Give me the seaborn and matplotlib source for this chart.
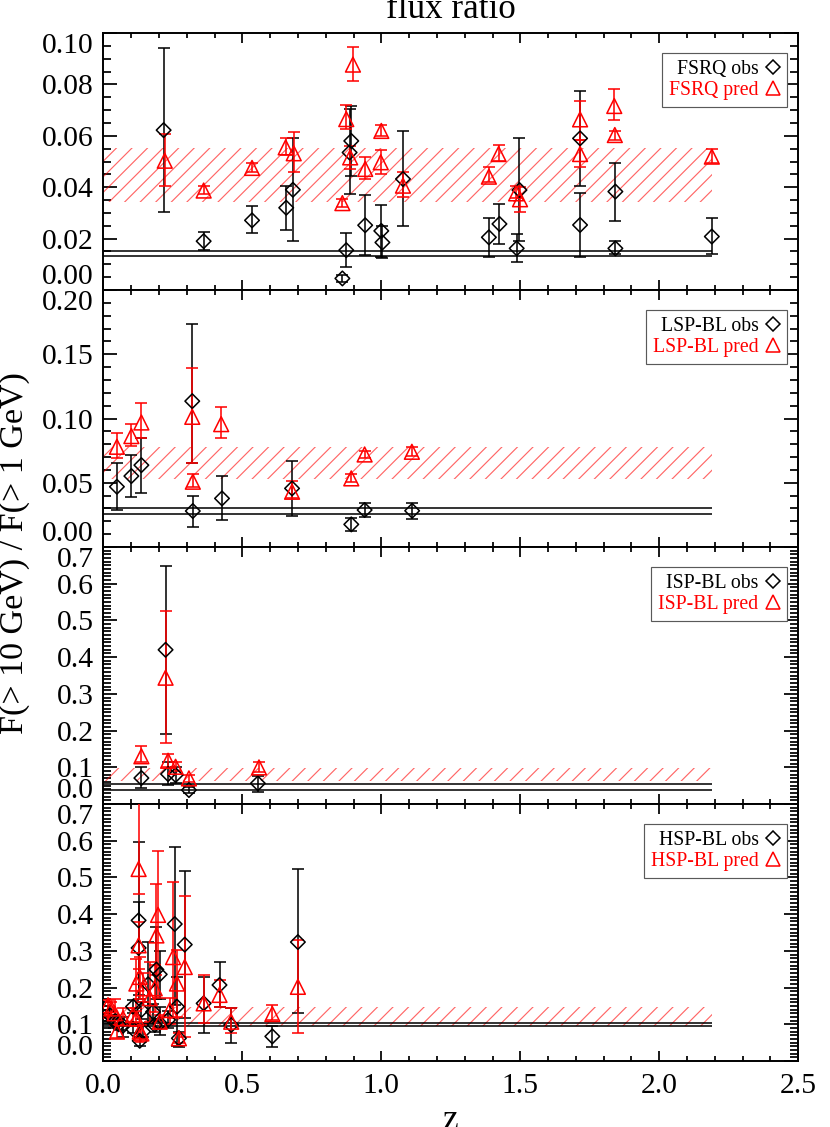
import matplotlib
matplotlib.use("Agg")
import matplotlib.pyplot as plt
from matplotlib.lines import Line2D
from matplotlib.ticker import MultipleLocator, FormatStrFormatter
import numpy as np
import seaborn as sns

# ---- FSRQ ----
fsrq_obs_z = [0.217, 0.361, 0.535, 0.658, 0.682, 0.860, 0.874, 0.886, 0.892, 0.942, 1.000,
              1.004, 1.078, 1.387, 1.425, 1.487, 1.497, 1.715, 1.715, 1.842, 1.842, 2.189]
fsrq_obs = [0.0622, 0.0190, 0.0271, 0.0320, 0.0390, 0.0045, 0.0155, 0.0535, 0.0580, 0.0252, 0.0230,
            0.0185, 0.0432, 0.0205, 0.0257, 0.0162, 0.0389, 0.0253, 0.0590, 0.0383, 0.0162, 0.0208]
fsrq_obs_hi = [0.0942, 0.0226, 0.0325, 0.0406, 0.0590, 0.0058, 0.0222, 0.0705, 0.0716, 0.0368, 0.0332,
               0.0250, 0.0619, 0.0279, 0.0335, 0.0218, 0.0590, 0.0376, 0.0774, 0.0495, 0.0192, 0.0279]
fsrq_obs_lo = [0.0303, 0.0155, 0.0222, 0.0235, 0.0191, 0.0032, 0.0090, 0.0374, 0.0445, 0.0135, 0.0129,
               0.0123, 0.0248, 0.0130, 0.0180, 0.0108, 0.0192, 0.0130, 0.0405, 0.0270, 0.0140, 0.0140]
fsrq_pred_z = [0.221, 0.361, 0.535, 0.656, 0.685, 0.860, 0.874, 0.888, 0.898, 0.942, 0.998,
               1.000, 1.078, 1.387, 1.422, 1.485, 1.499, 1.715, 1.715, 1.838, 1.840, 2.189]
fsrq_pred = [0.0503, 0.0387, 0.0475, 0.0555, 0.0532, 0.0338, 0.0665, 0.0516, 0.0877, 0.0471, 0.0497,
             0.0619, 0.0406, 0.0441, 0.0529, 0.0376, 0.0353, 0.0664, 0.0529, 0.0716, 0.0603, 0.0519]
fsrq_pred_hi = [0.0606, 0.0404, 0.0493, 0.0591, 0.0613, 0.0355, 0.0720, 0.0561, 0.0945, 0.0516, 0.0545,
                0.0643, 0.0458, 0.0477, 0.0564, 0.0405, 0.0402, 0.0737, 0.0584, 0.0781, 0.0620, 0.0547]
fsrq_pred_lo = [0.0404, 0.0374, 0.0458, 0.0526, 0.0458, 0.0323, 0.0626, 0.0471, 0.0813, 0.0432, 0.0452,
                0.0600, 0.0361, 0.0421, 0.0503, 0.0359, 0.0305, 0.0584, 0.0477, 0.0661, 0.0584, 0.0493]

# ---- LSP-BL ----
lsp_obs_z = [0.049, 0.101, 0.137, 0.320, 0.322, 0.427, 0.679, 0.892, 0.940, 1.111]
lsp_obs = [0.0469, 0.0552, 0.0637, 0.1135, 0.0280, 0.0378, 0.0456, 0.0176, 0.0288, 0.0282]
lsp_obs_hi = [0.0650, 0.0715, 0.0845, 0.1733, 0.0399, 0.0554, 0.0671, 0.0223, 0.0339, 0.0345]
lsp_obs_lo = [0.0288, 0.0386, 0.0422, 0.0650, 0.0153, 0.0210, 0.0244, 0.0127, 0.0236, 0.0220]
lsp_pred_z = [0.049, 0.101, 0.137, 0.320, 0.322, 0.424, 0.679, 0.892, 0.940, 1.110]
lsp_pred = [0.0780, 0.0863, 0.0969, 0.1013, 0.0508, 0.0956, 0.0430, 0.0534, 0.0720, 0.0741]
lsp_pred_hi = [0.0889, 0.0956, 0.1117, 0.1396, 0.0567, 0.1090, 0.0516, 0.0567, 0.0749, 0.0780]
lsp_pred_lo = [0.0689, 0.0785, 0.0845, 0.0655, 0.0464, 0.0845, 0.0378, 0.0508, 0.0689, 0.0710]

# ---- ISP-BL ----
isp_obs_z = [0.137, 0.224, 0.233, 0.260, 0.308, 0.556]
isp_obs = [0.0707, 0.420, 0.0815, 0.0788, 0.038, 0.0562]
isp_obs_hi = [0.101, 0.649, 0.115, 0.101, 0.047, 0.076]
isp_obs_lo = [0.0426, 0.192, 0.0516, 0.0562, 0.029, 0.0335]
isp_pred_z = [0.137, 0.224, 0.233, 0.260, 0.308, 0.560]
isp_pred = [0.130, 0.344, 0.1178, 0.1014, 0.0697, 0.0996]
isp_pred_hi = [0.1576, 0.527, 0.1359, 0.115, 0.0788, 0.115]
isp_pred_lo = [0.115, 0.1667, 0.101, 0.0906, 0.0607, 0.0879]

# ---- HSP-BL ----
hsp_obs_z = [0.023, 0.040, 0.055, 0.071, 0.107, 0.107, 0.127, 0.127, 0.131, 0.137, 0.143, 0.161, 0.179,
             0.185, 0.191, 0.203, 0.203, 0.233, 0.257, 0.265, 0.272, 0.293, 0.361, 0.418, 0.460, 0.608, 0.700]
hsp_obs = [0.125, 0.107, 0.100, 0.096, 0.148, 0.087, 0.383, 0.308, 0.055, 0.139, 0.080, 0.209, 0.134,
           0.098, 0.249, 0.236, 0.103, 0.112, 0.373, 0.148, 0.062, 0.317, 0.157, 0.207, 0.098, 0.067, 0.324]
hsp_obs_hi = [0.140, 0.125, 0.115, 0.120, 0.165, 0.100, 0.597, 0.433, 0.066, 0.160, 0.095, 0.324, 0.155,
              0.115, 0.365, 0.300, 0.148, 0.135, 0.582, 0.229, 0.080, 0.518, 0.229, 0.270, 0.145, 0.094, 0.523]
hsp_obs_lo = [0.110, 0.090, 0.085, 0.066, 0.130, 0.075, 0.170, 0.180, 0.042, 0.115, 0.065, 0.100, 0.110,
              0.080, 0.170, 0.170, 0.071, 0.090, 0.152, 0.040, 0.037, 0.116, 0.075, 0.148, 0.048, 0.037, 0.130]
hsp_pred_z = [0.017, 0.029, 0.041, 0.049, 0.071, 0.107, 0.119, 0.119, 0.127, 0.127, 0.131, 0.131, 0.137,
              0.143, 0.167, 0.185, 0.191, 0.197, 0.203, 0.239, 0.251, 0.265, 0.272, 0.293, 0.361, 0.418,
              0.460, 0.608, 0.700]
hsp_pred = [0.152, 0.143, 0.130, 0.080, 0.116, 0.125, 0.211, 0.116, 0.523, 0.315, 0.229, 0.080, 0.075,
            0.198, 0.171, 0.198, 0.342, 0.398, 0.107, 0.139, 0.283, 0.211, 0.062, 0.256, 0.157, 0.180,
            0.107, 0.128, 0.202]
hsp_pred_hi = [0.166, 0.160, 0.170, 0.098, 0.143, 0.145, 0.279, 0.135, 0.760, 0.378, 0.283, 0.098, 0.098,
               0.240, 0.270, 0.261, 0.482, 0.573, 0.125, 0.171, 0.487, 0.302, 0.075, 0.450, 0.234, 0.220,
               0.145, 0.152, 0.329]
hsp_pred_lo = [0.118, 0.125, 0.098, 0.062, 0.098, 0.105, 0.143, 0.095, 0.455, 0.250, 0.170, 0.062, 0.053,
               0.160, 0.107, 0.134, 0.234, 0.171, 0.090, 0.100, 0.116, 0.120, 0.048, 0.066, 0.103, 0.148,
               0.075, 0.112, 0.075]

# hatched band and the two black reference lines of each panel
class_names = ["FSRQ", "LSP-BL", "ISP-BL", "HSP-BL"]
band_lo = [0.0344, 0.0533, 0.0617, 0.094]
band_hi = [0.0553, 0.0779, 0.097, 0.148]
line_lo = [0.0132, 0.0255, 0.039, 0.0955]
line_hi = [0.0153, 0.0306, 0.055, 0.1045]
band_zmax = 2.19

obs_sets = [
    (fsrq_obs_z, fsrq_obs, fsrq_obs_hi, fsrq_obs_lo),
    (lsp_obs_z, lsp_obs, lsp_obs_hi, lsp_obs_lo),
    (isp_obs_z, isp_obs, isp_obs_hi, isp_obs_lo),
    (hsp_obs_z, hsp_obs, hsp_obs_hi, hsp_obs_lo),
]
pred_sets = [
    (fsrq_pred_z, fsrq_pred, fsrq_pred_hi, fsrq_pred_lo),
    (lsp_pred_z, lsp_pred, lsp_pred_hi, lsp_pred_lo),
    (isp_pred_z, isp_pred, isp_pred_hi, isp_pred_lo),
    (hsp_pred_z, hsp_pred, hsp_pred_hi, hsp_pred_lo),
]

# axis setup per panel: ymax, major step, minor step, label format
panel_axes = [
    (0.10, 0.02, 0.005, "%.2f"),
    (0.20, 0.05, 0.01, "%.2f"),
    (0.70, 0.10, 0.01, "%.1f"),
    (0.70, 0.10, 0.01, "%.1f"),
]

RED = (1.0, 0.0, 0.0)
DPI = 140
W, H = 830, 1127

sns.set_theme(style="ticks")
plt.rcParams['font.family'] = ['Liberation Serif', 'DejaVu Serif']
plt.rcParams['hatch.linewidth'] = 0.6
plt.rcParams['axes.linewidth'] = 1.0
plt.rcParams['axes.edgecolor'] = 'black'
plt.rcParams['text.color'] = 'black'
plt.rcParams['xtick.color'] = 'black'
plt.rcParams['ytick.color'] = 'black'

fig = plt.figure(figsize=(W / DPI, H / DPI), dpi=DPI)
x0, x1 = 103.3 / W, 798.3 / W
top_px, bot_px = 33.0, 1061.0
ph = (bot_px - top_px) / 4

TICK_FS = 15.2
LEG_FS = 10.2


def draw_errbars(ax, z, v, hi, lo, color, marker, size):
    z = np.asarray(z); v = np.asarray(v)
    yerr = [v - np.asarray(lo), np.asarray(hi) - v]
    ax.errorbar(z, v, yerr=yerr, fmt='none', ecolor=color, elinewidth=0.8,
                capsize=3.2, capthick=0.8, zorder=3)
    sns.scatterplot(x=z, y=v, ax=ax, marker=marker, s=size, color=color,
                    facecolor='none', edgecolor=color, linewidth=0.8,
                    legend=False, zorder=4)


for i in range(4):
    ymax, major, minor, fmt = panel_axes[i]
    bottom = 1 - (top_px + ph * (i + 1)) / H
    ax = fig.add_axes([x0, bottom, x1 - x0, ph / H])

    ax.fill_between([0, band_zmax], band_lo[i], band_hi[i], facecolor='none',
                    edgecolor=(1, 0, 0, 0.6), hatch='///', linewidth=0, zorder=1)
    ax.hlines([line_lo[i], line_hi[i]], 0, band_zmax, color='black', linewidth=0.8, zorder=2)

    draw_errbars(ax, *obs_sets[i], 'black', 'D', 28)
    draw_errbars(ax, *pred_sets[i], RED, '^', 58)

    ax.set_xlim(0, 2.5)
    ax.set_ylim(0, ymax)
    ax.set_xticks(np.arange(0, 2.51, 0.5))
    ax.xaxis.set_minor_locator(MultipleLocator(0.1))
    ax.set_yticks(np.arange(0, ymax + 1e-9, major))
    ax.yaxis.set_minor_locator(MultipleLocator(minor))
    ax.yaxis.set_major_formatter(FormatStrFormatter(fmt))
    ax.xaxis.set_major_formatter(FormatStrFormatter("%.1f"))
    ax.tick_params(axis='both', which='both', direction='in', top=True, right=True,
                   labelsize=TICK_FS)
    ax.tick_params(axis='y', which='major', length=7.2, width=0.9, pad=5)
    ax.tick_params(axis='y', which='minor', length=3.9, width=0.9)
    ax.tick_params(axis='x', which='major', length=5.2, width=0.9, pad=6)
    ax.tick_params(axis='x', which='minor', length=2.6, width=0.9)
    if i < 3:
        ax.tick_params(axis='x', labelbottom=False)
    for sp in ax.spines.values():
        sp.set_linewidth(1.0)

    yt = ax.yaxis.get_major_ticks()
    yt[0].label1.set_verticalalignment('bottom')
    yt[-1].label1.set_verticalalignment('top')

    name = class_names[i]
    handles = [
        Line2D([], [], ls='none', marker='D', ms=5.2, mfc='none', mec='black', mew=0.8),
        Line2D([], [], ls='none', marker='^', ms=7.4, mfc='none', mec=RED, mew=0.8),
    ]
    leg = ax.legend(handles, [f"{name} obs", f"{name} pred"], loc='upper right',
                    bbox_to_anchor=(1 - 11 / 695, 1 - 20 / ph), borderaxespad=0,
                    markerfirst=False, fontsize=LEG_FS, labelcolor=['black', RED],
                    handlelength=0.7, handletextpad=0.4, labelspacing=0.1,
                    borderpad=0.35, fancybox=False, framealpha=1, edgecolor='0.35')
    leg.get_frame().set_linewidth(0.6)

xc = (x0 + x1) / 2
fig.text(xc, 1 - 18 / H, "flux ratio", ha='center', va='baseline', fontsize=18)
fig.text(15 / W, 1 - 553 / H, "F(> 10 GeV) / F(> 1 GeV)", rotation=90,
         ha='center', va='center', fontsize=17.5)
fig.text(xc, 1 - 1129 / H, "z", ha='center', va='baseline', fontsize=18)

fig.savefig("out.png", dpi=DPI)
